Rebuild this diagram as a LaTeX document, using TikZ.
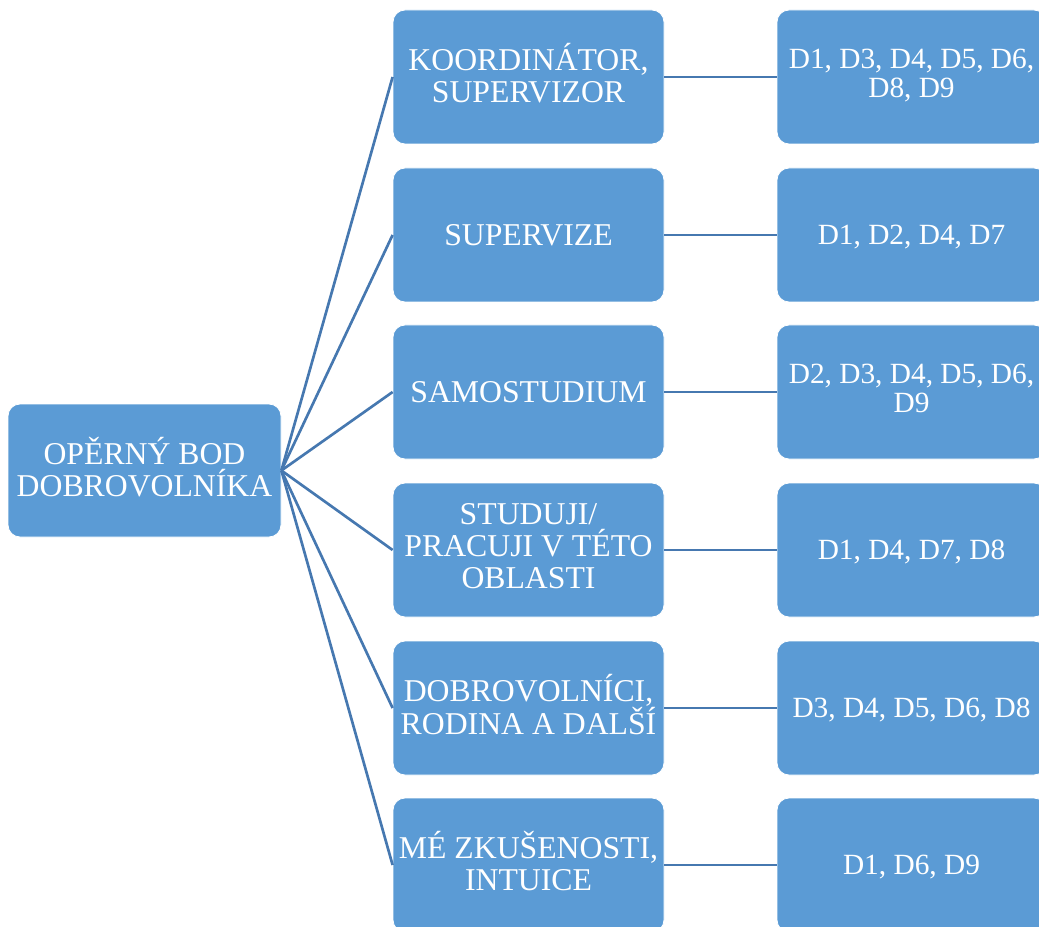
\documentclass[tikz,border=0pt]{standalone}
\usepackage{fontspec}
\setmainfont{Liberation Serif}
\definecolor{boxblue}{HTML}{5B9BD5}
\definecolor{lineblue}{HTML}{4678B0}
\newcommand\capstrut{\rule[-0.238em]{0pt}{1.138em}}
\begin{document}
\begin{tikzpicture}[x=0.75pt,y=-0.75pt,
  box/.style={rectangle, rounded corners=9pt, fill=boxblue, draw=white, line width=0.6pt,
    minimum height=100.5pt, align=center, text=white, inner sep=0pt,
    execute at begin node=\capstrut, execute at end node=\capstrut,
    font=\fontsize{23.8}{23.8}\selectfont},
  midbox/.style={box, minimum width=203.25pt},
  rightbox/.style={box, minimum width=201.75pt, font=\fontsize{22}{21.75}\selectfont},
  conn/.style={draw=lineblue, line width=2pt}]
\useasboundingbox (0,0) rectangle (1039,927);
\clip (0,0) rectangle (1039,927);
\node[box, minimum width=204.75pt, minimum height=99.75pt] (root) at (144.5,470.5) {OPĚRNÝ BOD\\DOBROVOLNÍKA};
\node[midbox] (m1) at (528.5,77) {KOORDINÁTOR,\\SUPERVIZOR};
\node[midbox] (m2) at (528.5,235) {SUPERVIZE};
\node[midbox] (m3) at (528.5,392) {SAMOSTUDIUM};
\node[midbox] (m4) at (528.5,550) {STUDUJI/\\PRACUJI V TÉTO\\OBLASTI};
\node[midbox] (m5) at (528.5,708) {DOBROVOLNÍCI,\\RODINA A DALŠÍ};
\node[midbox] (m6) at (528.5,865) {MÉ ZKUŠENOSTI,\\INTUICE};
\node[rightbox] (r1) at (911.5,77) {D1, D3, D4, D5, D6,\\D8, D9};
\node[rightbox] (r2) at (911.5,235) {D1, D2, D4, D7};
\node[rightbox] (r3) at (911.5,392) {D2, D3, D4, D5, D6,\\D9};
\node[rightbox] (r4) at (911.5,550) {D1, D4, D7, D8};
\node[rightbox] (r5) at (911.5,708) {D3, D4, D5, D6, D8};
\node[rightbox] (r6) at (911.5,865) {D1, D6, D9};
\foreach \i in {1,...,6}{
  \draw[conn] (root.east) -- (m\i.west);
  \draw[conn] (m\i.east) -- (r\i.west);
}
\end{tikzpicture}
\end{document}
